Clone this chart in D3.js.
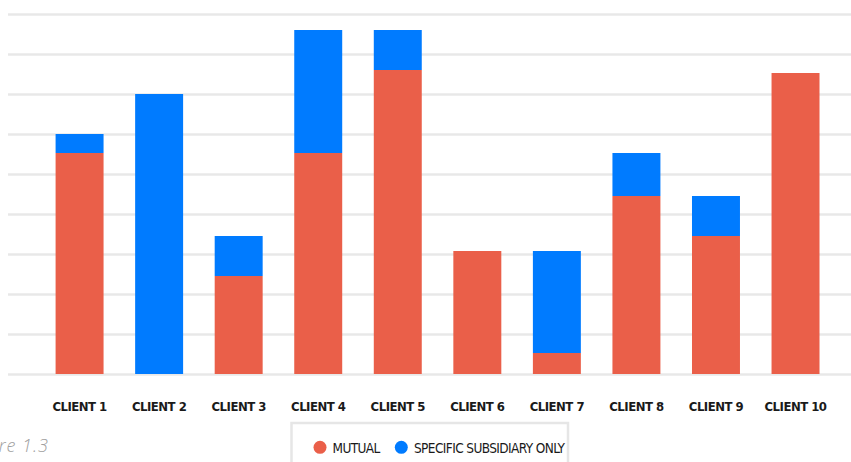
<!DOCTYPE html>
<html>
<head>
<meta charset="utf-8">
<script src="https://cdn.jsdelivr.net/npm/d3@7"></script>
<style>
  html, body { margin: 0; padding: 0; background: #ffffff; }
  svg { display: block; }
  .cat-label { font-family: "Liberation Sans Narrow", "Arial Narrow", "DejaVu Sans Condensed", sans-serif; font-weight: 700; font-size: 13px; letter-spacing: -0.5px; fill: #1a1a1a; }
  .legend-label { font-family: "Liberation Sans Narrow", "Arial Narrow", "DejaVu Sans Condensed", sans-serif; font-weight: 400; font-size: 13.5px; letter-spacing: -0.6px; fill: #1a1a1a; }
  .caption { font-family: "Open Sans", Lato, sans-serif; font-style: italic; font-weight: 300; font-size: 18px; letter-spacing: 1px; fill: #a0a0a0; }
</style>
</head>
<body>
<script>
// Clients and the two stacked series
const clients = ["CLIENT 1", "CLIENT 2", "CLIENT 3", "CLIENT 4", "CLIENT 5",
                 "CLIENT 6", "CLIENT 7", "CLIENT 8", "CLIENT 9", "CLIENT 10"];
const mutual = [55.25, 0, 24.5, 55.25, 76, 30.75, 5.25, 44.5, 34.5, 75.25];
const specificSubsidiary = [4.75, 70, 10, 30.75, 10, 0, 25.5, 10.75, 10, 0];
const seriesNames = ["MUTUAL", "SPECIFIC SUBSIDIARY ONLY"];
const yTicks = [0, 10, 20, 30, 40, 50, 60, 70, 80, 90];

const W = 851, H = 462;
const colors = { "MUTUAL": "#EA5F49", "SPECIFIC SUBSIDIARY ONLY": "#007BFF" };

const rows = clients.map((c, i) => ({
  client: c,
  "MUTUAL": mutual[i],
  "SPECIFIC SUBSIDIARY ONLY": specificSubsidiary[i]
}));

const svg = d3.select("body").append("svg")
  .attr("width", W).attr("height", H);

const x = d3.scaleBand()
  .domain(clients)
  .range([39.8, 835.3])
  .paddingInner(0.397)
  .paddingOuter(0.1985);

const y = d3.scaleLinear()
  .domain([0, 90])
  .range([374, 14]);

// Horizontal gridlines
const grid = svg.append("g")
  .attr("transform", "translate(8,0)")
  .call(d3.axisLeft(y).tickValues(yTicks).tickSize(-(W - 8)).tickFormat(""));
grid.select(".domain").remove();
grid.selectAll(".tick line")
  .attr("stroke", "#e8e8e8")
  .attr("stroke-width", 2.5);

// Stacked bars
const stacked = d3.stack().keys(seriesNames)(rows);
svg.append("g").selectAll("g")
  .data(stacked)
  .join("g")
  .attr("fill", d => colors[d.key])
  .selectAll("rect")
  .data(d => d)
  .join("rect")
  .attr("x", d => x(d.data.client))
  .attr("width", x.bandwidth())
  .attr("y", d => y(d[1]))
  .attr("height", d => y(d[0]) - y(d[1]));

// Category labels
const xAxis = svg.append("g")
  .attr("transform", "translate(0,374)")
  .call(d3.axisBottom(x).tickSize(0).tickPadding(0));
xAxis.select(".domain").remove();
xAxis.selectAll(".tick text")
  .attr("class", "cat-label")
  .attr("y", 36.5)
  .attr("dy", null)
  .attr("font-size", null)
  .attr("font-family", null);

// Figure caption, partly cut by the left edge
svg.append("text")
  .attr("class", "caption")
  .attr("x", 49)
  .attr("y", 451.5)
  .attr("text-anchor", "end")
  .text("Figure 1.3");

// Legend box
const legend = svg.append("g");
legend.append("rect")
  .attr("x", 291.5)
  .attr("y", 423)
  .attr("width", 276.5)
  .attr("height", 60)
  .attr("fill", "#ffffff")
  .attr("stroke", "#e6e6e6")
  .attr("stroke-width", 2.5);

const legendPos = [{ cx: 320, tx: 332.5 }, { cx: 401.3, tx: 414 }];
seriesNames.forEach((name, i) => {
  legend.append("circle")
    .attr("cx", legendPos[i].cx)
    .attr("cy", 447.3)
    .attr("r", 6.5)
    .attr("fill", colors[name]);
  legend.append("text")
    .attr("class", "legend-label")
    .attr("x", legendPos[i].tx)
    .attr("y", 453)
    .text(name);
});
</script>
</body>
</html>
